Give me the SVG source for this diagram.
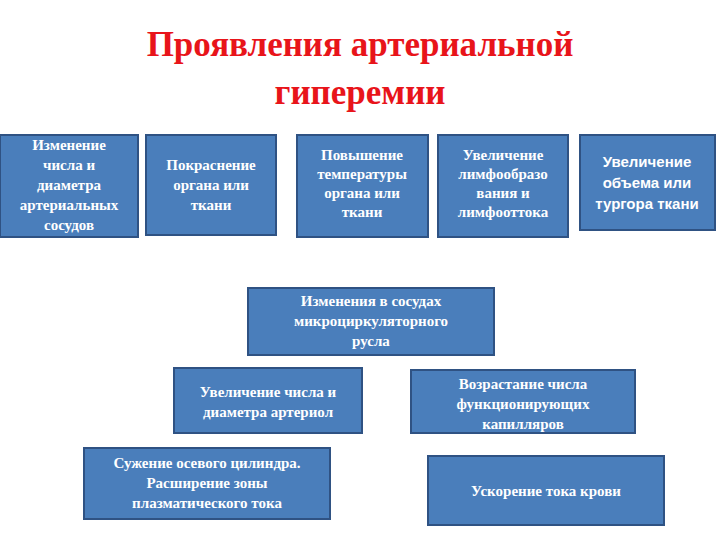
<svg xmlns="http://www.w3.org/2000/svg" width="720" height="540" viewBox="0 0 720 540">
<style>
.b{fill:#4a7ebb;stroke:#2f5283;stroke-width:2}
.t{font-family:"Liberation Serif",serif;font-weight:bold;font-size:15px;fill:#fff;text-anchor:middle}
.s{font-family:"Liberation Sans",sans-serif;font-weight:bold;font-size:15px;fill:#fff;text-anchor:middle}
.h{font-family:"Liberation Serif",serif;font-weight:bold;font-size:35px;fill:#e8141a;text-anchor:middle}
</style>
<rect width="720" height="540" fill="#fff"/>
<text class="h" x="360" y="56">Проявления артериальной</text>
<text class="h" x="360" y="104">гиперемии</text>
<g id="n1"><rect class="b" x="0" y="135" width="138" height="102"/><text class="t" x="69" y="150">Изменение<tspan x="69" dy="20">числа и</tspan><tspan x="69" dy="20">диаметра</tspan><tspan x="69" dy="20">артериальных</tspan><tspan x="69" dy="20">сосудов</tspan></text></g>
<g id="n2"><rect class="b" x="146" y="135" width="130" height="100"/><text class="t" x="211" y="170">Покраснение<tspan x="211" dy="20">органа или</tspan><tspan x="211" dy="20">ткани</tspan></text></g>
<g id="n3"><rect class="b" x="297" y="135" width="131" height="102"/><text class="t" x="362" y="160">Повышение<tspan x="362" dy="19">температуры</tspan><tspan x="362" dy="19">органа или</tspan><tspan x="362" dy="19">ткани</tspan></text></g>
<g id="n4"><rect class="b" x="438" y="135" width="130" height="102"/><text class="t" x="503" y="160">Увеличение<tspan x="503" dy="19">лимфообразо</tspan><tspan x="503" dy="19">вания и</tspan><tspan x="503" dy="19">лимфооттока</tspan></text></g>
<g id="n5"><rect class="b" x="580" y="135" width="135" height="95"/><text class="s" x="647" y="167">Увеличение<tspan x="647" dy="21">объема или</tspan><tspan x="647" dy="21">тургора ткани</tspan></text></g>
<g id="n6"><rect class="b" x="248" y="288" width="246" height="67"/><text class="t" x="371" y="306">Изменения в сосудах<tspan x="371" dy="20">микроциркуляторного</tspan><tspan x="371" dy="20">русла</tspan></text></g>
<g id="n7"><rect class="b" x="174" y="368" width="188" height="65"/><text class="t" x="268" y="397">Увеличение числа и<tspan x="268" dy="20">диаметра артериол</tspan></text></g>
<g id="n8"><rect class="b" x="411" y="370" width="224" height="63"/><text class="t" x="523" y="389">Возрастание числа<tspan x="523" dy="20">функционирующих</tspan><tspan x="523" dy="20">капилляров</tspan></text></g>
<g id="n9"><rect class="b" x="84" y="448" width="246" height="71"/><text class="t" x="207" y="468">Сужение осевого цилиндра.<tspan x="207" dy="20">Расширение зоны</tspan><tspan x="207" dy="20">плазматического тока</tspan></text></g>
<g id="n10"><rect class="b" x="428" y="456" width="236" height="69"/><text class="t" x="546" y="496">Ускорение тока крови</text></g>
<g id="connectors"/>
</svg>
